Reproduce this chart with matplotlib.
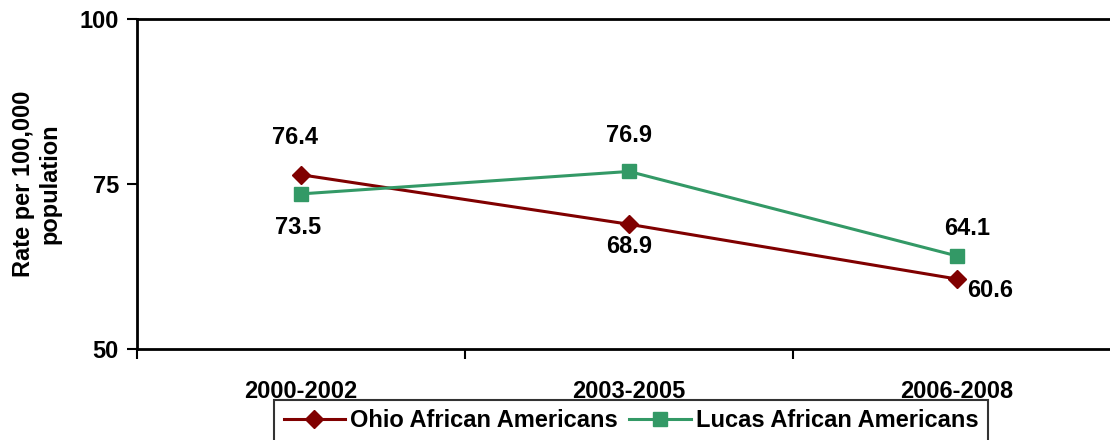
import matplotlib.pyplot as plt
import numpy as np

plt.rcParams['font.family'] = ['Liberation Sans', 'DejaVu Sans']
plt.rcParams['font.weight'] = 'bold'

periods = ['2000-2002', '2003-2005', '2006-2008']
ohio = [76.4, 68.9, 60.6]
lucas = [73.5, 76.9, 64.1]

ohio_col = '#800000'
lucas_col = '#339966'
fs = 17

fig = plt.figure(figsize=(11.1, 4.4), dpi=100)
ax = fig.add_axes([137/1110, 1 - 349/440, (1121 - 137)/1110, (349 - 19)/440])

x = np.arange(len(periods))
ax.plot(x, ohio, color=ohio_col, lw=2.2, marker='D', ms=9, label='Ohio African Americans')
ax.plot(x, lucas, color=lucas_col, lw=2.2, marker='s', ms=10, label='Lucas African Americans')

ax.set_xlim(-0.5, 2.5)
ax.set_ylim(50, 100)
ax.set_yticks([50, 75, 100])
ax.set_xticks([-0.5, 0.5, 1.5, 2.5])
ax.set_xticklabels([])
ax.set_xticks(x, minor=True)
ax.set_xticklabels(periods, minor=True, fontsize=fs, fontweight='bold')
ax.tick_params(axis='x', which='minor', length=0, pad=22)
ax.tick_params(axis='x', which='major', length=7, width=1.5, direction='out')
ax.tick_params(axis='y', length=7, width=1.5, labelsize=fs, pad=6)
for lab in ax.get_yticklabels():
    lab.set_fontweight('bold')

ax.spines['right'].set_visible(False)
for s in ['left', 'bottom', 'top']:
    ax.spines[s].set_linewidth(2)

ax.set_ylabel('Rate per 100,000\npopulation', fontsize=fs, fontweight='bold', labelpad=13,
              linespacing=1.2)

# value labels (offsets in points)
offs_ohio = [(-4, 27), (0, -16), (24, -8)]
offs_lucas = [(-2, -24), (0, 26), (7, 20)]
for i in range(3):
    ax.annotate(f'{ohio[i]}', (x[i], ohio[i]), xytext=offs_ohio[i], textcoords='offset points',
                ha='center', va='center', fontsize=fs, fontweight='bold')
    ax.annotate(f'{lucas[i]}', (x[i], lucas[i]), xytext=offs_lucas[i], textcoords='offset points',
                ha='center', va='center', fontsize=fs, fontweight='bold')

leg = fig.legend(loc='upper center', bbox_to_anchor=(631/1110, 1 - 400/440), ncol=2, fontsize=fs,
                 frameon=True, fancybox=False, edgecolor='black', handlelength=2.6,
                 columnspacing=0.5, handletextpad=0.2, borderaxespad=0, borderpad=0.4)
leg.get_frame().set_linewidth(1.5)
for t in leg.get_texts():
    t.set_fontweight('bold')

fig.savefig('out.png', dpi=100)
